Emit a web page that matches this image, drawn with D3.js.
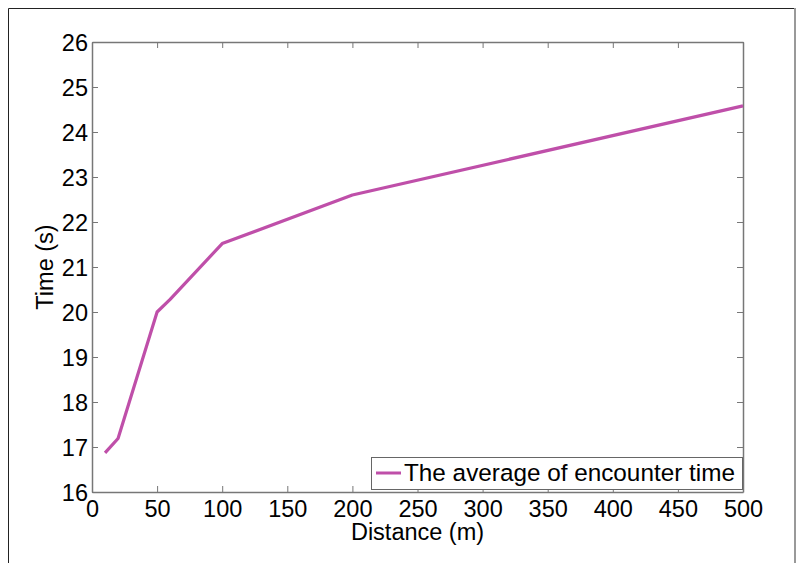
<!DOCTYPE html>
<html>
<head>
<meta charset="utf-8">
<script src="https://cdn.jsdelivr.net/npm/d3@7"></script>
<style>
  body { margin: 0; background: #fff; }
  svg { display: block; font-family: "Liberation Sans", Arial, sans-serif; }
</style>
</head>
<body>
<div id="chart"></div>
<script>
// data
var distance = [10, 20, 50, 60, 100, 200, 500]
var avgTime  = [16.87, 17.19, 20.0, 20.28, 21.52, 22.6, 24.58]
var xTicks = [0, 50, 100, 150, 200, 250, 300, 350, 400, 450, 500]
var yTicks = [16, 17, 18, 19, 20, 21, 22, 23, 24, 25, 26]
var seriesName = "The average of encounter time"

var W = 798, H = 563
var margin = {top: 42, right: 55, bottom: 71, left: 92}
var width = W - margin.left - margin.right   // 651
var height = H - margin.top - margin.bottom  // 450

var svg = d3.select("#chart").append("svg")
  .attr("width", W)
  .attr("height", H)

// window-like frame
svg.append("path")
  .attr("d", "M8.5," + H + "V8.5H795")
  .attr("fill", "none")
  .attr("stroke", "#222")
  .attr("stroke-width", 1)
svg.append("line")
  .attr("x1", 795).attr("x2", 795)
  .attr("y1", 8).attr("y2", H)
  .attr("stroke", "#999")
  .attr("stroke-width", 2)

var g = svg.append("g")
  .attr("transform", "translate(" + margin.left + "," + margin.top + ")")

var x = d3.scaleLinear().domain([0, 500]).range([0, width])
var y = d3.scaleLinear().domain([16, 26]).range([height, 0])

var axisColor = "#777"
var tickLen = 6

// bottom axis with labels
var xAxis = g.append("g")
  .attr("transform", "translate(0," + height + ")")
  .call(d3.axisBottom(x).tickValues(xTicks).tickSizeInner(-tickLen).tickSizeOuter(0).tickPadding(8))
// left axis with labels
var yAxis = g.append("g")
  .call(d3.axisLeft(y).tickValues(yTicks).tickSizeInner(-tickLen).tickSizeOuter(0).tickPadding(4))
// top / right ticks, no labels
g.append("g")
  .call(d3.axisTop(x).tickValues(xTicks).tickSizeInner(-tickLen).tickSizeOuter(0).tickFormat(""))
g.append("g")
  .attr("transform", "translate(" + width + ",0)")
  .call(d3.axisRight(y).tickValues(yTicks).tickSizeInner(-tickLen).tickSizeOuter(0).tickFormat(""))

g.selectAll(".domain").attr("stroke", axisColor).attr("stroke-width", 1.5)
g.selectAll(".tick line").attr("stroke", axisColor).attr("stroke-width", 1)
g.selectAll(".tick text")
  .attr("fill", "#000")
  .style("font-size", "23.5px")
  .style("font-family", "'Liberation Sans', Arial, sans-serif")
yAxis.selectAll(".tick text").attr("dy", "0.36em")

// axis labels
svg.append("text")
  .attr("x", margin.left + width / 2)
  .attr("y", 540)
  .attr("text-anchor", "middle")
  .style("font-size", "23.5px")
  .text("Distance (m)")
svg.append("text")
  .attr("transform", "translate(53," + (margin.top + height / 2) + ") rotate(-90)")
  .attr("text-anchor", "middle")
  .style("font-size", "23.5px")
  .text("Time (s)")

// data line
var lineColor = "#bf4fa9"
var pts = distance.map(function (d, i) { return [d, avgTime[i]] })
var line = d3.line()
  .x(function (d) { return x(d[0]) })
  .y(function (d) { return y(d[1]) })
g.append("path")
  .datum(pts)
  .attr("d", line)
  .attr("fill", "none")
  .attr("stroke", lineColor)
  .attr("stroke-width", 3.2)
  .attr("stroke-linejoin", "round")

// legend
var lg = g.append("g")
  .attr("transform", "translate(" + (371 - margin.left) + "," + (457 - margin.top) + ")")
lg.append("rect")
  .attr("x", 0.5).attr("y", 0.5)
  .attr("width", 371).attr("height", 32)
  .attr("fill", "#fff")
  .attr("stroke", "#666")
  .attr("stroke-width", 1)
lg.append("line")
  .attr("x1", 5).attr("x2", 30)
  .attr("y1", 16).attr("y2", 16)
  .attr("stroke", lineColor)
  .attr("stroke-width", 3)
lg.append("text")
  .attr("x", 33)
  .attr("y", 24)
  .style("font-size", "24.3px")
  .text(seriesName)
</script>
</body>
</html>
